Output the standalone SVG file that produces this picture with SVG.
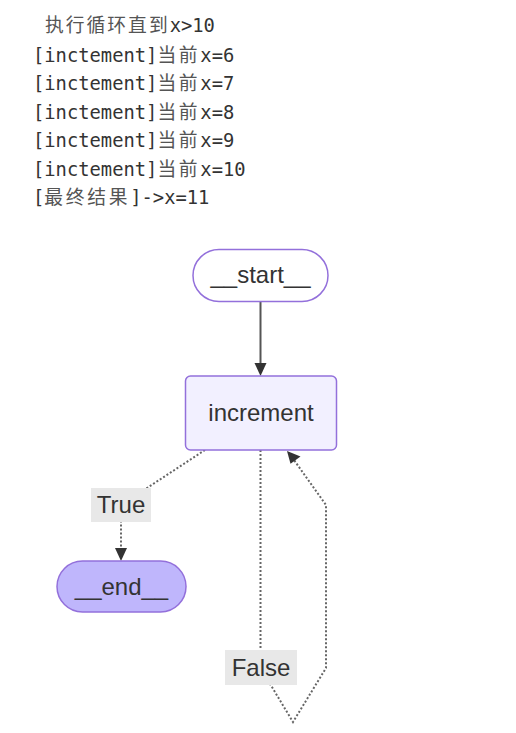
<svg xmlns="http://www.w3.org/2000/svg" width="516" height="733" viewBox="0 0 516 733">
<style>
.log{font-family:"DejaVu Sans Mono","Noto Sans CJK SC",monospace;font-size:18.8px;fill:#333}
.cjk{letter-spacing:2.7px;fill:#555}
.node rect{stroke:#9370DB;stroke-width:1.5}
.lbl{font-family:"Liberation Sans",Arial,sans-serif;font-size:24px;fill:#333;text-anchor:middle;dominant-baseline:central}
.elbl rect{fill:#e8e8e8}
.solid{fill:none;stroke:#555;stroke-width:2}
.dot{fill:none;stroke:#666;stroke-width:2;stroke-dasharray:2 2}
.head{fill:#333}
</style>
<rect width="516" height="733" fill="#fff"/>
<g id="log">
<text class="log" x="45" y="32"><tspan class="cjk" style="letter-spacing:2px">执行循环直到</tspan>x&gt;10</text>
<text class="log" x="33" y="62">[inctement]<tspan class="cjk">当前</tspan>x=6</text>
<text class="log" x="33" y="90.4">[inctement]<tspan class="cjk">当前</tspan>x=7</text>
<text class="log" x="33" y="118.8">[inctement]<tspan class="cjk">当前</tspan>x=8</text>
<text class="log" x="33" y="147.2">[inctement]<tspan class="cjk">当前</tspan>x=9</text>
<text class="log" x="33" y="175.6">[inctement]<tspan class="cjk">当前</tspan>x=10</text>
<text class="log" x="33" y="204">[<tspan class="cjk">最终结果</tspan>]-&gt;x=11</text>
</g>
<g id="edges">
<path class="solid" d="M260.5,301 L260.5,364"/>
<polygon class="head" points="254.5,363 266.5,363 260.5,376"/>
<path class="dot" d="M205,450 L121,505 L121,549"/>
<polygon class="head" points="115,548 127,548 121,561"/>
<path class="dot" d="M260.5,450 L260.5,668 L293,722 L326,668 L326,505 L294,460"/>
<polygon class="head" points="287,451 300.5,456.5 290.5,463.7"/>
</g>
<g id="edge-labels">
<g class="elbl" id="label-true"><rect x="91" y="488" width="60" height="34"/><text class="lbl" x="121" y="504">True</text></g>
<g class="elbl" id="label-false"><rect x="225" y="650" width="72" height="35"/><text class="lbl" x="261" y="667">False</text></g>
</g>
<g class="node" id="node-start"><rect x="193" y="249.5" width="135" height="52" rx="26" fill="#fff"/><text class="lbl" x="260.5" y="274">__start__</text></g>
<g class="node" id="node-increment"><rect x="185.5" y="376" width="151" height="74" rx="5" fill="#f2f0ff"/><text class="lbl" x="261" y="412">increment</text></g>
<g class="node" id="node-end"><rect x="57" y="561" width="129" height="51" rx="25.5" fill="#bfb6fc"/><text class="lbl" x="121.5" y="586">__end__</text></g>
</svg>
